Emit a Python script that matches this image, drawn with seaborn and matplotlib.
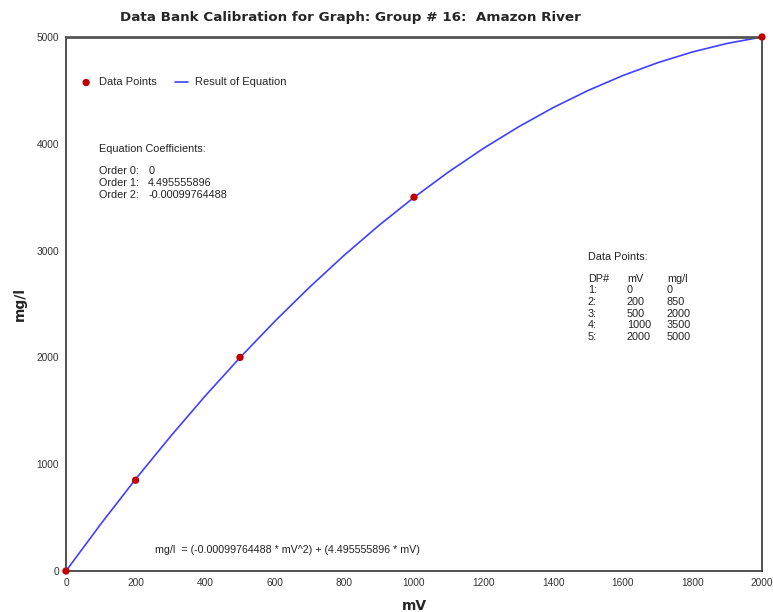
import numpy as np
import pandas as pd
import matplotlib
matplotlib.use("Agg")
import matplotlib.pyplot as plt
import seaborn as sns

# calibration data points
dp_mv = [0, 200, 500, 1000, 2000]
dp_mgl = [0, 850, 2000, 3500, 5000]

# curve ("Result of Equation")
curve_mv = [0, 100, 200, 300, 400, 500, 600, 700, 800, 900, 1000,
            1100, 1200, 1300, 1400, 1500, 1600, 1700, 1800, 1900, 2000]
curve_mgl = [0, 440, 860, 1259, 1639, 1998, 2338, 2658, 2958, 3238, 3498,
             3738, 3958, 4158, 4339, 4499, 4639, 4759, 4860, 4940, 5000]

coef_labels = ["Order 0:", "Order 1:", "Order 2:"]
coef_values = ["0", "4.495555896", "-0.00099764488"]

x_ticks = list(range(0, 2001, 200))
y_ticks = list(range(0, 5001, 1000))

sns.set_style("white")
plt.rcParams["font.family"] = ["Liberation Sans", "DejaVu Sans"]

pts = pd.DataFrame({"mV": dp_mv, "mg/l": dp_mgl})
cur = pd.DataFrame({"mV": curve_mv, "mg/l": curve_mgl})

fig = plt.figure(figsize=(7.73, 6.12), dpi=100)
ax = fig.add_axes([66 / 773, 41 / 612, 696 / 773, 534 / 612])

sns.lineplot(data=cur, x="mV", y="mg/l", ax=ax, color="#4040ff", lw=1.2,
             label="Result of Equation", zorder=2)
sns.scatterplot(data=pts, x="mV", y="mg/l", ax=ax, color="#c00000", s=28,
                edgecolor="none", label="Data Points", zorder=3, clip_on=False)

ax.set_xlim(0, 2000)
ax.set_ylim(0, 5000)
ax.set_xticks(x_ticks)
ax.set_yticks(y_ticks)
ax.tick_params(axis="both", direction="out", length=3, width=0.8,
               labelsize=7.3, colors="#333333", pad=2)
for s in ax.spines.values():
    s.set_color("#333333")
    s.set_linewidth(1.2)
ax.spines["top"].set_linewidth(2)
ax.spines["top"].set_color("#555555")

ax.set_xlabel("mV", fontsize=10, fontweight="bold", family="DejaVu Sans",
              labelpad=8)
ax.set_ylabel("mg/l", fontsize=10, fontweight="bold", family="DejaVu Sans",
              labelpad=7)

# legend: points first, then line
h, l = ax.get_legend_handles_labels()
ax.legend([h[1], h[0]], [l[1], l[0]], loc="upper left",
          bbox_to_anchor=(0.005, 0.943), ncol=2, frameon=False, fontsize=8,
          handlelength=1.2, handletextpad=0.6, columnspacing=1.6,
          markerscale=1.0)

txt = dict(fontsize=7.8, color="#222222", va="center")
ax.text(95, 3950, "Equation Coefficients:", **txt)
for i, (lab, val) in enumerate(zip(coef_labels, coef_values)):
    y = 3745 - i * 112
    ax.text(95, y, lab, **txt)
    ax.text(236, y, val, **txt)

ax.text(1500, 2940, "Data Points:", **txt)
ax.text(1500, 2735, "DP#", **txt)
ax.text(1612, 2735, "mV", **txt)
ax.text(1727, 2735, "mg/l", **txt)
for i, (mv, mg) in enumerate(zip(dp_mv, dp_mgl)):
    y = 2735 - (i + 1) * 108
    ax.text(1500, y, f"{i + 1}:", **txt)
    ax.text(1612, y, str(mv), **txt)
    ax.text(1727, y, str(mg), **txt)

ax.text(256, 197, "mg/l  = (-0.00099764488 * mV^2) + (4.495555896 * mV)",
        fontsize=7.7, color="#222222", va="center")

fig.text(350 / 773, 1 - 18 / 612,
         "Data Bank Calibration for Graph: Group # 16:  Amazon River",
         ha="center", va="center", fontsize=9.7, fontweight="bold",
         family="DejaVu Sans")

fig.savefig("out.png", dpi=100)
